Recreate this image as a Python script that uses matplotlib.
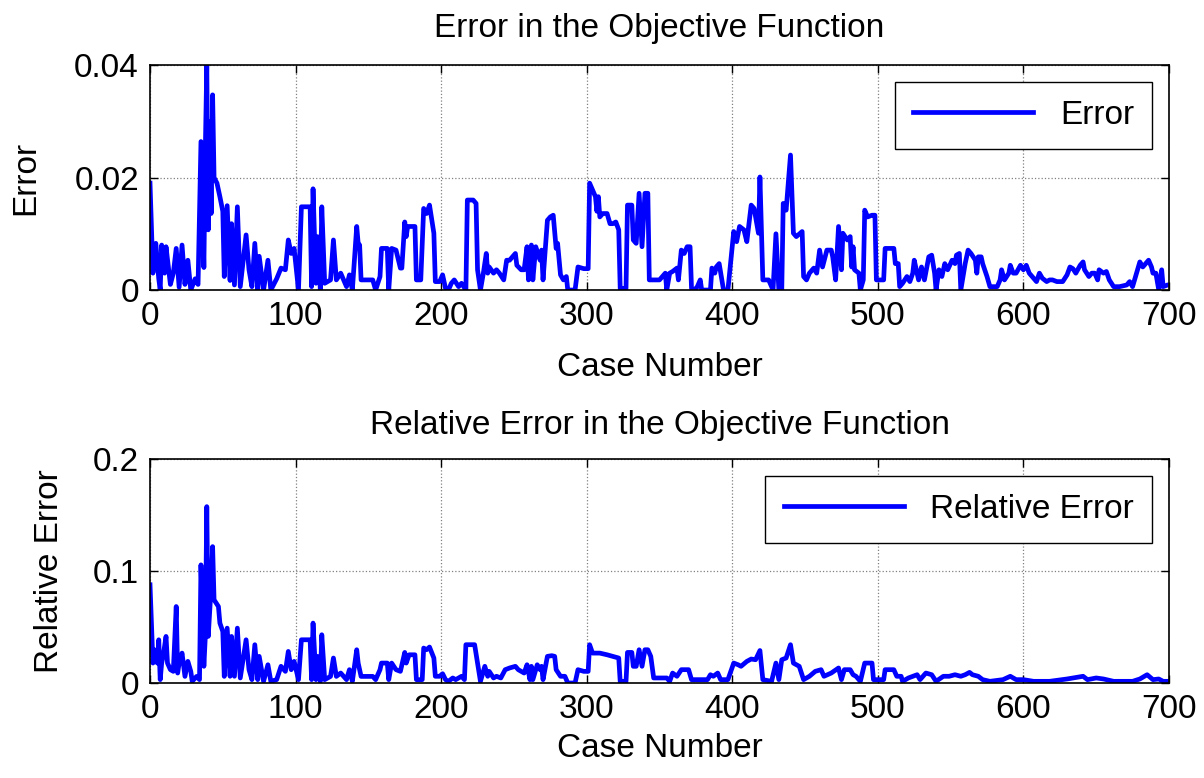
import matplotlib
matplotlib.use('Agg')
import matplotlib.pyplot as plt

# error in the objective function
case_err = [0, 2, 4, 6, 7, 8, 10, 11, 14, 16, 18, 20, 22, 24, 26, 28, 31, 33, 35, 37,
            38, 39, 40, 41, 42, 43, 44, 46, 48, 50, 51, 53, 55, 56, 58, 60, 62, 66, 68, 70,
            72, 74, 75, 78, 81, 83, 87, 90, 93, 95, 97, 99, 102, 104, 110, 111, 112, 114, 115, 117,
            118, 120, 124, 126, 128, 131, 135, 137, 139, 142, 143, 144, 145, 149, 153, 155, 158, 159, 163, 164,
            166, 169, 172, 173, 175, 176, 177, 182, 183, 186, 188, 190, 192, 195, 196, 199, 201, 203, 205, 207,
            209, 212, 214, 217, 218, 222, 224, 225, 227, 229, 231, 232, 233, 236, 238, 240, 243, 245, 247, 251,
            252, 255, 257, 259, 260, 262, 263, 265, 268, 269, 270, 273, 275, 277, 279, 280, 282, 284, 286, 287,
            292, 294, 298, 301, 302, 304, 306, 307, 308, 309, 311, 314, 316, 318, 320, 322, 323, 327, 328, 331,
            332, 334, 336, 338, 340, 342, 343, 346, 350, 354, 355, 357, 359, 362, 363, 365, 367, 369, 371, 372,
            374, 376, 378, 379, 385, 386, 388, 389, 391, 394, 397, 401, 403, 405, 408, 410, 413, 415, 418, 419,
            421, 425, 427, 428, 430, 432, 434, 435, 437, 440, 442, 444, 448, 449, 451, 453, 456, 458, 460, 462,
            465, 468, 469, 471, 473, 475, 476, 479, 481, 482, 483, 484, 487, 488, 490, 491, 493, 496, 498, 499,
            504, 505, 511, 512, 514, 515, 517, 520, 522, 524, 525, 528, 530, 532, 535, 537, 539, 540, 542, 544,
            546, 548, 551, 553, 554, 556, 557, 560, 562, 564, 567, 568, 569, 571, 572, 575, 577, 582, 584, 585,
            587, 590, 591, 593, 595, 598, 600, 602, 604, 607, 609, 611, 613, 616, 618, 620, 623, 625, 627, 630,
            632, 634, 636, 639, 641, 642, 645, 647, 649, 651, 652, 655, 657, 659, 662, 666, 671, 673, 675, 680,
            682, 686, 688, 689, 691, 693, 695, 696, 699, 700]
err = [0.019, 0.003, 0.0083, 0.002, 0.0, 0.008, 0.003, 0.0077, 0.001, 0.003, 0.0074, 0.0005, 0.008, 0.001, 0.0053, 0.0, 0.002, 0.001, 0.0264, 0.004,
       0.025, 0.04, 0.0107, 0.03, 0.0136, 0.0347, 0.02, 0.019, 0.0166, 0.014, 0.0024, 0.015, 0.0017, 0.0118, 0.0009, 0.0148, 0.0006, 0.0098, 0.0036, 0.0006,
       0.0083, 0.0, 0.006, 0.0, 0.0053, 0.0, 0.002, 0.0039, 0.0036, 0.0089, 0.0065, 0.0074, 0.0, 0.0148, 0.0148, 0.0006, 0.018, 0.0012, 0.0095, 0.0,
       0.0148, 0.0012, 0.0018, 0.0089, 0.0018, 0.003, 0.0006, 0.0027, 0.0, 0.0113, 0.0083, 0.008, 0.0018, 0.0018, 0.0018, 0.0, 0.0024, 0.0074, 0.0074, 0.0,
       0.0074, 0.0071, 0.0039, 0.0039, 0.0121, 0.0095, 0.0113, 0.0113, 0.0018, 0.0018, 0.0145, 0.0136, 0.0151, 0.0101, 0.0015, 0.0015, 0.0027, 0.0003, 0.0, 0.0012,
       0.0018, 0.0006, 0.0012, 0.0, 0.016, 0.016, 0.0154, 0.0036, 0.0, 0.003, 0.0065, 0.003, 0.0041, 0.003, 0.0036, 0.003, 0.0018, 0.0053, 0.0053, 0.0065,
       0.0044, 0.0036, 0.0036, 0.0077, 0.0018, 0.008, 0.0018, 0.0077, 0.0053, 0.0071, 0.0018, 0.0124, 0.013, 0.0133, 0.0074, 0.0083, 0.0027, 0.0018, 0.0024, 0.0,
       0.0, 0.0041, 0.0038, 0.0038, 0.019, 0.0178, 0.0166, 0.014, 0.0166, 0.013, 0.0136, 0.0136, 0.0118, 0.0118, 0.0121, 0.0107, 0.0003, 0.0003, 0.0151, 0.0151,
       0.0089, 0.0083, 0.0172, 0.0077, 0.0172, 0.0172, 0.0018, 0.0018, 0.0018, 0.003, 0.0, 0.003, 0.0033, 0.0039, 0.0018, 0.0071, 0.0065, 0.0077, 0.0077, 0.0003,
       0.0, 0.0006, 0.0018, 0.0, 0.0, 0.0039, 0.003, 0.0041, 0.0047, 0.0, 0.0, 0.0104, 0.0086, 0.0113, 0.0107, 0.0086, 0.0151, 0.0145, 0.0101, 0.0201,
       0.0018, 0.0018, 0.0006, 0.0, 0.01, 0.0, 0.0, 0.0154, 0.0142, 0.024, 0.0101, 0.0095, 0.0104, 0.0024, 0.0018, 0.003, 0.0039, 0.003, 0.0071, 0.0041,
       0.0071, 0.0071, 0.0059, 0.0018, 0.0113, 0.0036, 0.0101, 0.0089, 0.0095, 0.0041, 0.0077, 0.0036, 0.003, 0.0, 0.0018, 0.0142, 0.013, 0.0133, 0.0133, 0.0018,
       0.0018, 0.0074, 0.0074, 0.0047, 0.0047, 0.0006, 0.0012, 0.0024, 0.0015, 0.003, 0.0053, 0.0018, 0.0041, 0.0018, 0.0059, 0.0062, 0.003, 0.0, 0.0036, 0.0024,
       0.0047, 0.0036, 0.0053, 0.0047, 0.0062, 0.0065, 0.0, 0.0047, 0.0071, 0.0065, 0.0053, 0.003, 0.0059, 0.0059, 0.0047, 0.0024, 0.0006, 0.0006, 0.0018, 0.0036,
       0.0018, 0.003, 0.0044, 0.003, 0.003, 0.0044, 0.0036, 0.0044, 0.003, 0.0021, 0.0015, 0.003, 0.0021, 0.0015, 0.0018, 0.0018, 0.0015, 0.0015, 0.0015, 0.0027,
       0.0041, 0.0038, 0.003, 0.0044, 0.005, 0.0036, 0.0024, 0.003, 0.003, 0.0018, 0.0036, 0.003, 0.0033, 0.0018, 0.0006, 0.0006, 0.0009, 0.0015, 0.0006, 0.005,
       0.0041, 0.0053, 0.0041, 0.003, 0.003, 0.0, 0.0036, 0.0006, 0.0009, 0.0009]

# relative error
case_rel = [0, 2, 3, 5, 6, 7, 8, 9, 11, 12, 14, 16, 18, 19, 20, 22, 24, 26, 28, 29,
            32, 34, 35, 37, 38, 39, 40, 42, 43, 44, 47, 48, 50, 51, 53, 55, 56, 58, 60, 62,
            66, 68, 70, 72, 74, 75, 78, 81, 83, 87, 90, 93, 95, 97, 99, 102, 104, 110, 111, 112,
            114, 115, 117, 118, 120, 124, 126, 128, 131, 135, 137, 139, 142, 143, 145, 149, 153, 155, 158, 159,
            163, 164, 166, 169, 172, 175, 176, 178, 182, 183, 187, 188, 190, 192, 195, 196, 199, 201, 203, 205,
            208, 210, 214, 216, 217, 223, 225, 227, 230, 232, 233, 236, 238, 241, 244, 247, 251, 253, 255, 257,
            259, 261, 262, 263, 266, 268, 269, 270, 273, 276, 278, 279, 282, 285, 287, 292, 294, 298, 301, 302,
            304, 309, 314, 318, 322, 323, 327, 328, 331, 332, 334, 336, 338, 340, 342, 344, 346, 355, 357, 359,
            362, 365, 370, 372, 383, 385, 387, 390, 392, 397, 401, 404, 406, 410, 413, 416, 419, 421, 427, 430,
            432, 434, 437, 440, 442, 446, 449, 453, 457, 461, 463, 468, 473, 475, 477, 481, 483, 485, 488, 491,
            496, 497, 504, 505, 511, 513, 516, 517, 521, 524, 527, 529, 533, 537, 540, 545, 549, 553, 557, 560,
            563, 565, 569, 572, 577, 586, 591, 595, 600, 607, 618, 630, 634, 641, 644, 650, 655, 662, 675, 680,
            685, 689, 693, 696, 700]
rel = [0.0877, 0.0178, 0.0297, 0.0178, 0.0386, 0.003, 0.0178, 0.0238, 0.0416, 0.0178, 0.0119, 0.0104, 0.0683, 0.0089, 0.0178, 0.0267, 0.0059, 0.0193, 0.0104, 0.0015,
       0.0059, 0.003, 0.1055, 0.0149, 0.0416, 0.1575, 0.0416, 0.0862, 0.1218, 0.0743, 0.0683, 0.0535, 0.046, 0.0059, 0.049, 0.006, 0.0416, 0.006, 0.049, 0.0045,
       0.0386, 0.0119, 0.003, 0.0342, 0.003, 0.0238, 0.0015, 0.0163, 0.0015, 0.003, 0.0149, 0.0104, 0.0282, 0.0119, 0.0193, 0.003, 0.0386, 0.0386, 0.003, 0.0535,
       0.003, 0.0238, 0.0015, 0.0431, 0.003, 0.0059, 0.0223, 0.0059, 0.0089, 0.003, 0.0119, 0.0015, 0.0297, 0.0178, 0.0059, 0.0059, 0.0059, 0.003, 0.0119, 0.0178,
       0.0178, 0.003, 0.0178, 0.0119, 0.0104, 0.0273, 0.0178, 0.0252, 0.0252, 0.003, 0.003, 0.0312, 0.0297, 0.0321, 0.0223, 0.006, 0.006, 0.0083, 0.003, 0.0015,
       0.0045, 0.003, 0.006, 0.003, 0.0342, 0.0342, 0.0178, 0.0015, 0.0149, 0.006, 0.0104, 0.0045, 0.006, 0.0045, 0.0119, 0.0134, 0.0149, 0.0119, 0.0104, 0.0089,
       0.0163, 0.003, 0.0149, 0.003, 0.0163, 0.0119, 0.0149, 0.003, 0.0238, 0.0244, 0.0238, 0.0119, 0.006, 0.006, 0.0, 0.0, 0.0119, 0.0104, 0.0104, 0.0342,
       0.0267, 0.0267, 0.0252, 0.0238, 0.0223, 0.0015, 0.0015, 0.0273, 0.0273, 0.0149, 0.0149, 0.0297, 0.0149, 0.0297, 0.0297, 0.0238, 0.0045, 0.0045, 0.0015, 0.0089,
       0.006, 0.0119, 0.0119, 0.003, 0.003, 0.0074, 0.006, 0.0089, 0.003, 0.003, 0.0178, 0.0163, 0.0149, 0.0193, 0.0214, 0.0208, 0.029, 0.003, 0.0015, 0.0178,
       0.003, 0.0208, 0.0223, 0.0342, 0.0178, 0.0149, 0.003, 0.006, 0.0104, 0.0119, 0.006, 0.0089, 0.0134, 0.003, 0.0119, 0.0119, 0.0074, 0.006, 0.0015, 0.0178,
       0.0178, 0.003, 0.003, 0.0119, 0.0119, 0.006, 0.006, 0.0015, 0.0045, 0.006, 0.0074, 0.003, 0.0089, 0.0074, 0.0015, 0.006, 0.006, 0.0074, 0.006, 0.0074,
       0.0095, 0.0074, 0.006, 0.003, 0.0015, 0.003, 0.006, 0.003, 0.003, 0.0015, 0.0015, 0.0036, 0.0045, 0.006, 0.003, 0.0045, 0.0036, 0.0015, 0.0015, 0.0036,
       0.0074, 0.003, 0.0036, 0.0015, 0.0015]

plt.rcParams['font.family'] = ['Liberation Sans', 'DejaVu Sans']
plt.rcParams['font.size'] = 24

fig = plt.figure(figsize=(12.04, 7.78), dpi=100)
ax1 = fig.add_axes([0.1246, 0.6272, 0.8463, 0.2892])
ax2 = fig.add_axes([0.1246, 0.1221, 0.8463, 0.2879])

def style(ax, ylim, yticks, xpad):
  ax.set_xlim(0, 700)
  ax.set_ylim(*ylim)
  ax.set_xticks(range(0, 701, 100))
  ax.set_yticks(yticks)
  ax.set_yticklabels([('%g' % t) for t in yticks])
  ax.tick_params(direction='in', top=True, right=True, length=6, width=1, pad=8)
  ax.grid(True, linestyle=':', color='#808080', linewidth=0.9)
  for s in ax.spines.values():
    s.set_linewidth(1.2)
  ax.set_xlabel('Case Number', labelpad=xpad)

ax1.plot(case_err, err, color='#0000ff', linewidth=3.4, label='Error')
style(ax1, (0, 0.04), [0, 0.02, 0.04], 14)
ax1.set_ylabel('Error', labelpad=24)
ax1.set_title('Error in the Objective Function', fontsize=24, pad=20)
ax1.legend(loc='upper right', fancybox=False, edgecolor='black', framealpha=1,
           handlelength=3.6, borderaxespad=0.5, borderpad=0.55)

ax2.plot(case_rel, rel, color='#0000ff', linewidth=3.4, label='Relative Error')
style(ax2, (0, 0.2), [0, 0.1, 0.2], 6)
ax2.set_ylabel('Relative Error', labelpad=20)
ax2.set_title('Relative Error in the Objective Function', fontsize=24, pad=18)
ax2.legend(loc='upper right', fancybox=False, edgecolor='black', framealpha=1,
           handlelength=3.6, borderaxespad=0.5, borderpad=0.55)

plt.savefig('out.png', dpi=100)
